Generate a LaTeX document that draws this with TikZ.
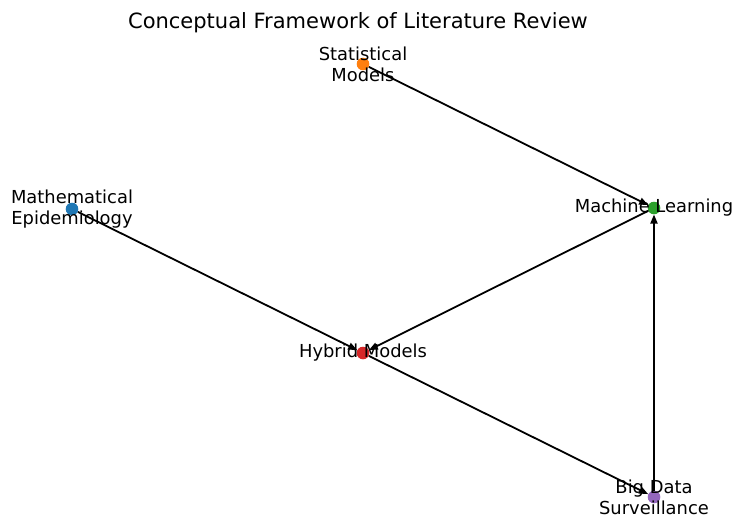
\documentclass[tikz,border=0pt]{standalone}
\usepackage{fontspec}
\setmainfont{DejaVu Sans}
\usetikzlibrary{arrows.meta}

\definecolor{tabblue}{HTML}{1F77B4}
\definecolor{taborange}{HTML}{FF7F0E}
\definecolor{tabgreen}{HTML}{2CA02C}
\definecolor{tabred}{HTML}{D62728}
\definecolor{tabpurple}{HTML}{9467BD}

\tikzset{
  dot/.style={circle,inner sep=0pt,minimum size=12.6pt,fill=#1},
  lbl/.style={align=center,inner sep=0pt,font=\fontsize{17.9}{21}\selectfont},
  link/.style={-{Triangle[length=9pt,width=7pt]},line width=1.8pt,black},
}

\begin{document}
\begin{tikzpicture}[x=1pt,y=-1pt]
\useasboundingbox (0,0) rectangle (734,515);
\node (title) at (358,23) {\fontsize{21}{25}\selectfont Conceptual Framework of Literature Review};

% nodes
\node[dot=tabblue]   (epi)  at (72,209)  {};
\node[dot=taborange] (stat) at (363,64)  {};
\node[dot=tabgreen]  (ml)   at (654,208) {};
\node[dot=tabred]    (hyb)  at (363,353) {};
\node[dot=tabpurple] (big)  at (654,497) {};

% edges
\draw[link] (stat) -- (ml);
\draw[link] (epi) -- (hyb);
\draw[link] (ml) -- (hyb);
\draw[link] (hyb) -- (big);
\draw[link] (big) -- (ml);

% labels
\node[lbl] (epi-l)  at (epi)  {Mathematical\\Epidemiology};
\node[lbl] (stat-l) at (stat) {Statistical\\Models};
\node[lbl] (ml-l)   at (ml)   {Machine Learning};
\node[lbl] (hyb-l)  at (hyb)  {Hybrid Models};
\node[lbl] (big-l)  at (big)  {Big Data\\Surveillance};
\end{tikzpicture}
\end{document}
